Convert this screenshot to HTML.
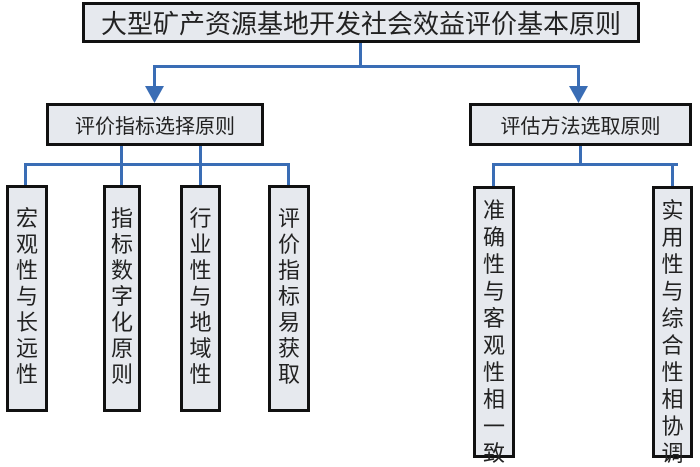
<!DOCTYPE html>
<html><head><meta charset="utf-8"><style>
body{margin:0;width:700px;height:466px;background:#fff;position:relative;overflow:hidden;font-family:"Liberation Sans","Noto Sans CJK SC",sans-serif;color:#222}
.b{position:absolute;box-sizing:border-box;border:3px solid #111;background:#e6e9ee;text-align:center}
.h{display:flex;align-items:center;justify-content:center}
.v{font-size:22px;line-height:26px;padding-top:18px}
.l{position:absolute;background:#3a6db5}
</style></head><body>
<div class="b h" style="left:82px;top:2px;width:558px;height:41px;font-size:26px">大型矿产资源基地开发社会效益评价基本原则</div>
<div class="l" style="left:359px;top:43px;width:3px;height:25px"></div>
<div class="l" style="left:153px;top:65px;width:427px;height:3px"></div>
<div class="l" style="left:153px;top:65px;width:3px;height:24px"></div>
<div class="l" style="left:577px;top:65px;width:3px;height:24px"></div>
<svg style="position:absolute;left:0;top:0" width="700" height="466"><polygon points="145,86 164,86 154.5,103" fill="#3a6db5"/><polygon points="569,86 588,86 578.5,103" fill="#3a6db5"/></svg>
<div class="b h" style="left:46px;top:103px;width:218px;height:43px;font-size:20px">评价指标选择原则</div>
<div class="b h" style="left:469px;top:103px;width:223px;height:43px;font-size:20px">评估方法选取原则</div>
<div class="l" style="left:120px;top:146px;width:3px;height:40px"></div>
<div class="l" style="left:199px;top:146px;width:3px;height:40px"></div>
<div class="l" style="left:24px;top:163px;width:266px;height:3px"></div>
<div class="l" style="left:24px;top:163px;width:3px;height:23px"></div>
<div class="l" style="left:287px;top:163px;width:3px;height:23px"></div>
<div class="l" style="left:579px;top:146px;width:3px;height:19px"></div>
<div class="l" style="left:492px;top:163px;width:186px;height:3px"></div>
<div class="l" style="left:492px;top:163px;width:3px;height:23px"></div>
<div class="l" style="left:671px;top:163px;width:3px;height:23px"></div>
<div class="b v" style="left:6px;top:185px;width:42px;height:227px">宏<br>观<br>性<br>与<br>长<br>远<br>性</div>
<div class="b v" style="left:103px;top:185px;width:38px;height:227px">指<br>标<br>数<br>字<br>化<br>原<br>则</div>
<div class="b v" style="left:180px;top:185px;width:41px;height:227px">行<br>业<br>性<br>与<br>地<br>域<br>性</div>
<div class="b v" style="left:268px;top:185px;width:42px;height:227px">评<br>价<br>指<br>标<br>易<br>获<br>取</div>
<div class="b v" style="left:473px;top:186px;width:42px;height:272px;line-height:27px;padding-top:8px">准<br>确<br>性<br>与<br>客<br>观<br>性<br>相<br>一<br>致</div>
<div class="b v" style="left:652px;top:186px;width:41px;height:272px;line-height:27px;padding-top:8px">实<br>用<br>性<br>与<br>综<br>合<br>性<br>相<br>协<br>调</div>
</body></html>
